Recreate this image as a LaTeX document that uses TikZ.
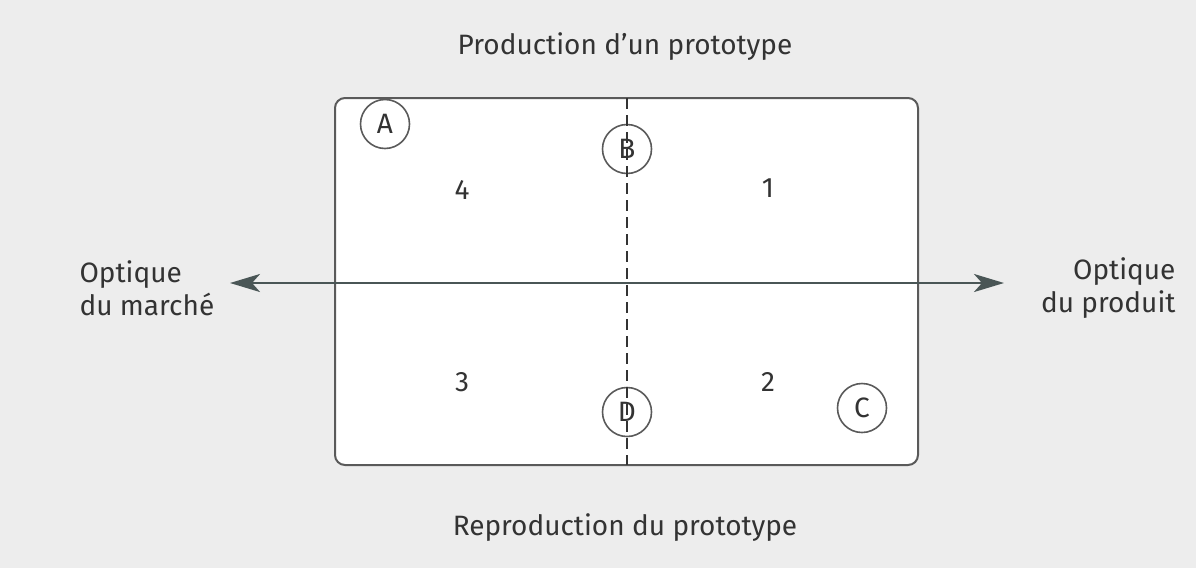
\documentclass[tikz,border=0pt]{standalone}
\usepackage{fontspec}
\setmainfont{Fira Sans}
\usetikzlibrary{arrows.meta}
\definecolor{paper}{HTML}{EDEDED}
\definecolor{ink}{HTML}{333333}
\definecolor{frame}{HTML}{5A5A5A}
\definecolor{axis}{HTML}{4A5656}
\begin{document}
\begin{tikzpicture}[x=1pt,y=-1pt,
  every node/.style={text=ink,font=\fontsize{28}{33}\selectfont},
  letter/.style={draw=frame,line width=1.6pt,circle,minimum size=49pt,inner sep=0pt},
  num/.style={},
  side/.style={align=left}]
  % background sheet
  \fill[paper] (0,0) rectangle (1196,568);
  \useasboundingbox (0,0) rectangle (1196,568);
  % central frame
  \draw[frame,line width=2pt,fill=white,rounded corners=10pt] (335,98) rectangle (918,465);
  % quadrant numbers
  \node[num] (n4) at (462,190) {4};
  \node[num] (n1) at (768,188) {1};
  \node[num] (n3) at (462,382) {3};
  \node[num] (n2) at (768,382) {2};
  % lettered circles
  \node[letter] (A) at (385,124) {A};
  \node[letter] (B) at (627,149) {B};
  \node[letter] (C) at (862,408) {C};
  \node[letter] (D) at (627,412) {D};
  % vertical divider
  \coordinate (top) at (627,98);
  \coordinate (bot) at (627,465);
  \draw[ink,line width=2.8pt,dash pattern=on 11pt off 6pt] (top) -- (bot);
  % horizontal axis
  \coordinate (left) at (230,283);
  \coordinate (right) at (1004,283);
  \draw[axis,line width=2.6pt,{Stealth[length=30pt,width=18pt,inset=8pt]}-{Stealth[length=30pt,width=18pt,inset=8pt]}] (left) -- (right);
  % captions
  \node (prod) at (625,47) {Production d'un prototype};
  \node (repr) at (625,528) {Reproduction du prototype};
  \node[side,anchor=west] (march) at (76,288) {Optique\\du marché};
  \node[side,align=right,anchor=east] (produit) at (1179,288) {Optique\\du produit};
\end{tikzpicture}
\end{document}
